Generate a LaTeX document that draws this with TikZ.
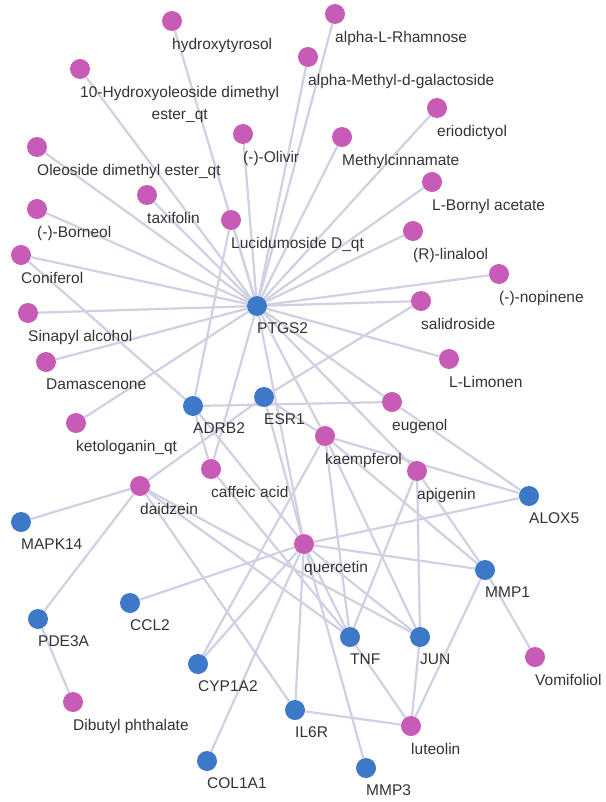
\documentclass[tikz,border=0pt]{standalone}
\usepackage{fontspec}
\setmainfont{Liberation Sans}
\usetikzlibrary{backgrounds}
\definecolor{pkfill}{HTML}{C75BB5}
\definecolor{blfill}{HTML}{3D78C9}
\definecolor{edgecol}{HTML}{CFD0E3}
\definecolor{txt}{HTML}{333333}
\tikzset{
  nd/.style={circle,inner sep=0pt,minimum size=20pt,draw=none},
  pk/.style={nd,fill=pkfill},
  bl/.style={nd,fill=blfill},
  lbl/.style={anchor=north west,inner sep=0pt,yshift=-6.5pt,font=\fontsize{15.5}{22.5}\selectfont,text=txt,align=center},
  ed/.style={draw=edgecol,line width=2.2pt}
}
\begin{document}
\begin{tikzpicture}[x=1pt,y=-1pt]
\useasboundingbox (0,0) rectangle (605,802);
% compounds
\node[pk,label={[lbl]-90:hydroxytyrosol}] (hyd) at (172,21) {};
\node[pk,label={[lbl]-90:alpha-L-Rhamnose}] (rham) at (335,14) {};
\node[pk,label={[lbl]-90:10-Hydroxyoleoside dimethyl\\ester\_qt}] (hyox) at (80,69) {};
\node[pk,label={[lbl]-90:alpha-Methyl-d-galactoside}] (amgal) at (308,57) {};
\node[pk,label={[lbl]-90:(-)-Olivir}] (oliv) at (243,134) {};
\node[pk,label={[lbl]-90:eriodictyol}] (erio) at (437,108) {};
\node[pk,label={[lbl]-90:Methylcinnamate}] (mcin) at (342,137) {};
\node[pk,label={[lbl]-90:Oleoside dimethyl ester\_qt}] (oleo) at (37,147) {};
\node[pk,label={[lbl]-90:L-Bornyl acetate}] (lborn) at (432,182) {};
\node[pk,label={[lbl]-90:taxifolin}] (taxi) at (147,195) {};
\node[pk,label={[lbl]-90:Lucidumoside D\_qt}] (luci) at (231,220) {};
\node[pk,label={[lbl]-90:(-)-Borneol}] (born) at (37,209) {};
\node[pk,label={[lbl]-90:(R)-linalool}] (lina) at (413,231) {};
\node[pk,label={[lbl]-90:Coniferol}] (conif) at (21,255) {};
\node[pk,label={[lbl]-90:(-)-nopinene}] (nop) at (499,274) {};
\node[pk,label={[lbl]-90:Sinapyl alcohol}] (sina) at (28,313) {};
\node[pk,label={[lbl]-90:salidroside}] (salid) at (421,301) {};
\node[pk,label={[lbl]-90:Damascenone}] (dama) at (46,362) {};
\node[pk,label={[lbl]-90:L-Limonen}] (limon) at (449,359) {};
\node[pk,label={[lbl]-90:ketologanin\_qt}] (keto) at (76,423) {};
\node[pk,label={[lbl]-90:eugenol}] (eug) at (392,402) {};
\node[pk,label={[lbl]-90:kaempferol}] (kaem) at (325,436) {};
\node[pk,label={[lbl]-90:caffeic acid}] (caff) at (211,469) {};
\node[pk,label={[lbl]-90:apigenin}] (apig) at (417,471) {};
\node[pk,label={[lbl]-90:daidzein}] (daid) at (140,486) {};
\node[pk,label={[lbl]-90:quercetin}] (quer) at (304,544) {};
\node[pk,label={[lbl]-90:Vomifoliol}] (vomi) at (535,657) {};
\node[pk,label={[lbl]-90:Dibutyl phthalate}] (dibu) at (73,702) {};
\node[pk,label={[lbl]-90:luteolin}] (lute) at (411,726) {};
% targets
\node[bl,label={[lbl]-90:PTGS2}] (ptgs) at (257,306) {};
\node[bl,label={[lbl]-90:ESR1}] (esr) at (264,397) {};
\node[bl,label={[lbl]-90:ADRB2}] (adrb) at (193,406) {};
\node[bl,label={[lbl]-90:ALOX5}] (alox) at (529,496) {};
\node[bl,label={[lbl]-90:MAPK14}] (mapk) at (21,522) {};
\node[bl,label={[lbl]-90:MMP1}] (mmpa) at (485,570) {};
\node[bl,label={[lbl]-90:PDE3A}] (pde) at (38,619) {};
\node[bl,label={[lbl]-90:CCL2}] (ccl) at (130,603) {};
\node[bl,label={[lbl]-90:TNF}] (tnf) at (350,637) {};
\node[bl,label={[lbl]-90:JUN}] (jun) at (420,637) {};
\node[bl,label={[lbl]-90:CYP1A2}] (cyp) at (198,664) {};
\node[bl,label={[lbl]-90:IL6R}] (ilr) at (295,710) {};
\node[bl,label={[lbl]-90:COL1A1}] (col) at (207,761) {};
\node[bl,label={[lbl]-90:MMP3}] (mmpc) at (366,768) {};
% interactions, drawn underneath the nodes
\begin{pgfonlayer}{background}
\foreach \c in {hyd,rham,hyox,amgal,oliv,erio,mcin,oleo,lborn,taxi,luci,born,lina,conif,nop,sina,salid,dama,limon,keto,eug,kaem,caff,apig,quer}
  \draw[ed] (ptgs) -- (\c);
\foreach \c in {conif,luci,eug,quer,caff}
  \draw[ed] (adrb) -- (\c);
\foreach \c in {salid,daid,kaem,quer}
  \draw[ed] (esr) -- (\c);
\foreach \c in {eug,kaem,quer}
  \draw[ed] (alox) -- (\c);
\draw[ed] (mapk) -- (daid);
\draw[ed] (pde) -- (daid);
\draw[ed] (pde) -- (dibu);
\draw[ed] (ccl) -- (quer);
\draw[ed] (cyp) -- (quer);
\draw[ed] (cyp) -- (kaem);
\draw[ed] (col) -- (quer);
\foreach \c in {daid,quer,lute}
  \draw[ed] (ilr) -- (\c);
\draw[ed] (mmpc) -- (quer);
\foreach \c in {quer,kaem,apig,lute,daid,caff}
  \draw[ed] (tnf) -- (\c);
\foreach \c in {quer,kaem,apig,lute,daid}
  \draw[ed] (jun) -- (\c);
\foreach \c in {quer,kaem,apig,lute,vomi}
  \draw[ed] (mmpa) -- (\c);
\end{pgfonlayer}
\end{tikzpicture}
\end{document}
